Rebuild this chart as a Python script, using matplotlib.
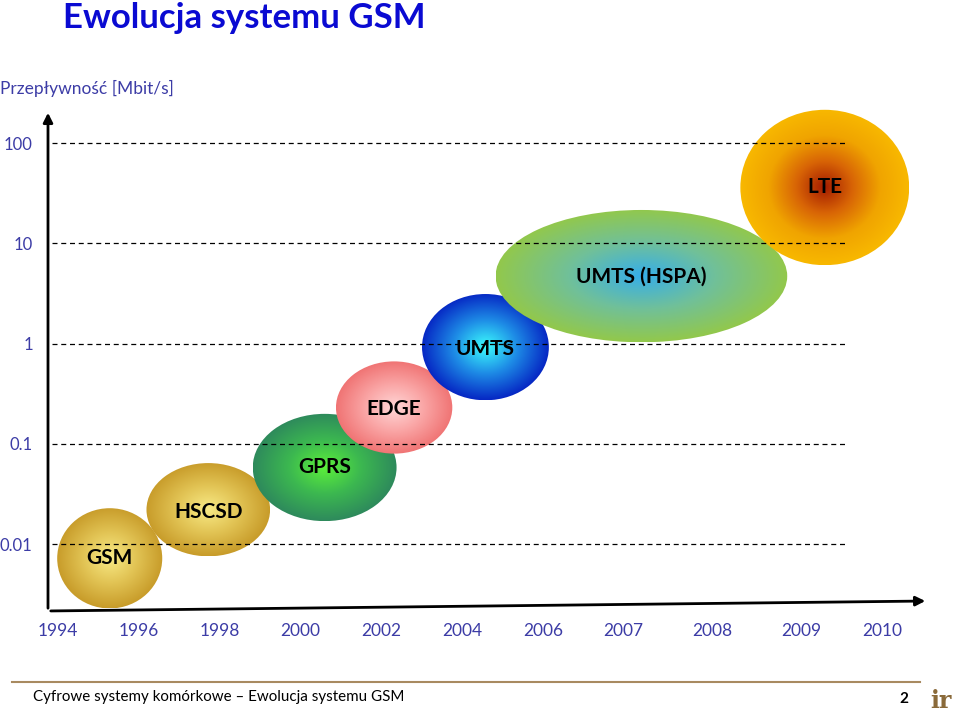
import numpy as np
import matplotlib
matplotlib.use("Agg")
import matplotlib.pyplot as plt
from matplotlib.patches import Ellipse
from matplotlib.colors import LinearSegmentedColormap

plt.rcParams['font.family'] = ['Lato', 'DejaVu Sans']

# ---------------- data ----------------
years = ["1994", "1996", "1998", "2000", "2002", "2004", "2006", "2007", "2008", "2009", "2010"]
year_pos = [0, 1, 2, 3, 4, 5, 6, 7, 8.1, 9.2, 10.2]
rate_ticks = [100, 10, 1, 0.1, 0.01]
rate_labels = ["100", "10", "1", "0.1", "0.01"]

systems = ["GSM", "HSCSD", "GPRS", "EDGE", "UMTS", "UMTS (HSPA)", "LTE"]
sys_x = [0.64, 1.86, 3.30, 4.16, 5.29, 7.22, 9.49]            # position on year axis
sys_rate = [0.0072, 0.022, 0.058, 0.23, 0.92, 4.7, 36.0]      # Mbit/s (centre)
sys_w = [1.30, 1.53, 1.78, 1.44, 1.57, 3.61, 2.09]             # width in year slots
sys_h = [1.00, 0.93, 1.07, 0.92, 1.06, 1.32, 1.55]             # height in decades
label_dy = [0.0, -0.02, 0.0, -0.01, -0.02, -0.01, 0.0]

# gradient colours: centre -> edge
grad = [
    ["#F8EA86", "#E2C455", "#C89C2A"],
    ["#F8EA86", "#E2C455", "#C89C2A"],
    ["#5CF03A", "#3CB850", "#2E8A5C"],
    ["#FFD6D6", "#FAA6A6", "#F07474"],
    ["#3CFCFC", "#1E8CE6", "#0628C4"],
    ["#36AEEA", "#70C09A", "#92C84C"],
    ["#A41C00", "#D86406", "#F0A400", "#F8B800"],
]

# ---------------- figure ----------------
W, H = 959, 716
fig = plt.figure(figsize=(W / 100, H / 100), dpi=100)
ax = fig.add_axes([48 / W, (H - 612) / H, 882 / W, 512 / H])

for i, name in enumerate(systems):
    cx, cy = sys_x[i], np.log10(sys_rate[i])
    w, h = sys_w[i], sys_h[i]
    e = Ellipse((cx, cy), w, h, facecolor='none', edgecolor='none', zorder=2 + i)
    ax.add_patch(e)
    n = 300
    gx = np.linspace(-1, 1, n)
    gy = np.linspace(-1, 1, n)
    X, Y = np.meshgrid(gx, gy)
    R = np.clip(np.sqrt(X ** 2 + Y ** 2), 0, 1)
    cmap = LinearSegmentedColormap.from_list("g%d" % i, grad[i])
    im = ax.imshow(R, cmap=cmap, vmin=0, vmax=1, extent=[cx - w / 2, cx + w / 2, cy - h / 2, cy + h / 2],
                   origin='lower', aspect='auto', interpolation='bilinear', zorder=2 + i)
    im.set_clip_path(e)
    ax.text(cx, cy + label_dy[i], name, ha='center', va='center', fontsize=15, fontweight='bold',
            color='black', zorder=20)

# dashed reference lines (drawn over the bubbles)
for v in rate_ticks:
    ax.hlines(np.log10(v), -0.074, 9.78, colors='black', linestyles=(0, (4, 3)), linewidth=0.9, zorder=15)

ax.set_xlim(-0.1238, 10.792)
ax.set_ylim(-2.678, 2.429)
ax.set_xticks(year_pos)
ax.set_xticklabels(years)
ax.set_yticks([np.log10(v) for v in rate_ticks])
ax.set_yticklabels(rate_labels)
ax.tick_params(axis='x', length=0, labelsize=12.5, labelcolor='#3C3CA6', pad=8)
ax.tick_params(axis='y', length=0, labelsize=12, labelcolor='#3C3CA6', pad=11)
for s in ax.spines.values():
    s.set_visible(False)
ax.set_facecolor('none')

# axis arrows
ax.annotate("", xy=(0, 0.9805), xytext=(0, 0.002), xycoords='axes fraction',
            arrowprops=dict(arrowstyle='-|>', color='black', lw=2, mutation_scale=14), zorder=25)
ax.annotate("", xy=(0.9978, 0.0215), xytext=(0, 0.002), xycoords='axes fraction',
            arrowprops=dict(arrowstyle='-|>', color='black', lw=2, mutation_scale=14), zorder=25)

# titles and texts
fig.text(63 / W, 1 - 18 / H, "Ewolucja systemu GSM", ha='left', va='center', fontsize=25,
         fontweight='bold', color='#0A0AD2')
fig.text(0 / W, 1 - 88 / H, "Przepływność [Mbit/s]", ha='left', va='center', fontsize=12.5,
         color='#3C3CA6')

# footer
fig.add_artist(plt.Line2D([12 / W, 920 / W], [1 - 682 / H, 1 - 682 / H], color='#A88A60', lw=1.5))
fig.text(33 / W, 1 - 697 / H, "Cyfrowe systemy komórkowe – Ewolucja systemu GSM", ha='left', va='center',
         fontsize=10.9, color='black')
fig.text(904 / W, 1 - 699 / H, "2", ha='center', va='center', fontsize=11, fontweight='bold', color='black')
fig.text(941 / W, 1 - 701 / H, "ir", ha='center', va='center', fontsize=17, fontweight='bold',
         color='#8A6A3A', family=['DejaVu Serif'])

fig.savefig("out.png", dpi=100)
